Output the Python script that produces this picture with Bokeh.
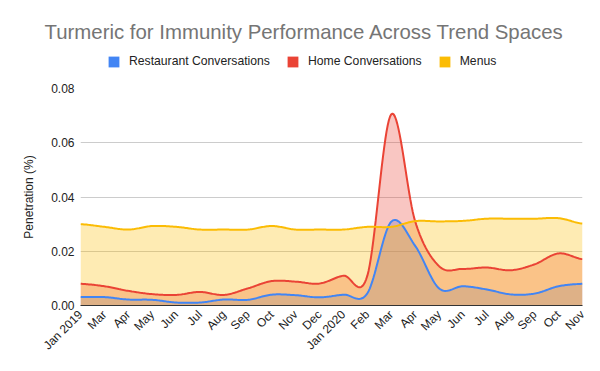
import numpy as np
from bokeh.plotting import figure
from bokeh.layouts import column
from bokeh.models import Range1d, FixedTicker, Legend, LegendItem, NumeralTickFormatter
from bokeh.embed import file_html
from bokeh.resources import INLINE

months = ["Jan 2019", "Mar", "Apr", "May", "Jun", "Jul", "Aug", "Sep", "Oct", "Nov", "Dec",
          "Jan 2020", "Feb", "Mar", "Apr", "May", "Jun", "Jul", "Aug", "Sep", "Oct", "Nov"]
restaurant = [0.0031, 0.0031, 0.0022, 0.0021, 0.0011, 0.0011, 0.0022, 0.0021, 0.0040, 0.0038, 0.0030,
              0.0040, 0.0045, 0.0309, 0.0220, 0.0063, 0.0071, 0.0059, 0.0041, 0.0044, 0.0071, 0.0080]
home = [0.0080, 0.0071, 0.0054, 0.0042, 0.0039, 0.0050, 0.0039, 0.0063, 0.0090, 0.0088, 0.0081,
        0.0110, 0.0110, 0.0705, 0.0310, 0.0145, 0.0135, 0.0140, 0.0130, 0.0152, 0.0192, 0.0171]
menus = [0.0300, 0.0290, 0.0280, 0.0293, 0.0290, 0.0280, 0.0280, 0.0280, 0.0293, 0.0280, 0.0280,
         0.0280, 0.0290, 0.0290, 0.0311, 0.0310, 0.0312, 0.0320, 0.0320, 0.0320, 0.0322, 0.0302]
y_ticks = [0.0, 0.02, 0.04, 0.06, 0.08]

series_names = ["Restaurant Conversations", "Home Conversations", "Menus"]
colors = ["#4285F4", "#EA4335", "#FBBC04"]
TITLE = "Turmeric for Immunity Performance Across Trend Spaces"
FONT = "Liberation Sans"
data = [restaurant, home, menus]
idx = list(range(len(months)))


def smooth(vals, n=20):
    """Cubic (Catmull-Rom) curve through the data points, for a smoothed line."""
    y = np.asarray(vals, dtype=float)
    N = len(y)
    m = np.zeros(N)
    m[1:-1] = (y[2:] - y[:-2]) / 2.0
    m[0] = (y[1] - y[0]) / 2.0
    m[-1] = (y[-1] - y[-2]) / 2.0
    xs, ys = [], []
    t = np.linspace(0, 1, n, endpoint=False)
    h00 = 2 * t**3 - 3 * t**2 + 1
    h10 = t**3 - 2 * t**2 + t
    h01 = -2 * t**3 + 3 * t**2
    h11 = t**3 - t**2
    for i in range(N - 1):
        xs.extend(i + t)
        ys.extend(h00 * y[i] + h10 * m[i] + h01 * y[i + 1] + h11 * m[i + 1])
    xs.append(N - 1)
    ys.append(y[-1])
    return np.array(xs), np.maximum(np.array(ys), 0)


# ---------- header (title + legend) ----------
HH = 76
head = figure(width=600, height=HH, x_range=Range1d(0, len(months) - 1), y_range=Range1d(0, 0.08),
              output_backend="svg", toolbar_location=None, x_axis_type=None, y_axis_type=None,
              min_border_left=80, min_border_right=18, min_border_top=43, min_border_bottom=0)
head.outline_line_color = None
head.xgrid.visible = False
head.ygrid.visible = False
head.title.text = TITLE
head.title.align = "left"
head.title.offset = -36
head.title.text_font = FONT
head.title.text_font_size = "20.4px"
head.title.text_font_style = "normal"
head.title.text_color = "#757575"
head.title.standoff = 1

items = []
for name, c, d in zip(series_names, colors, data):
    r = head.scatter(x=idx, y=d, marker="square", size=11, fill_color=c, line_color=None, visible=False)
    items.append(LegendItem(label=name, renderers=[r]))
legend = Legend(items=items, orientation="horizontal", location=(20, 1.5),
                glyph_width=27, glyph_height=27, label_standoff=2, spacing=9,
                label_text_font=FONT, label_text_font_size="12.2px", label_text_color="#222222",
                padding=0, margin=0, border_line_color=None, background_fill_alpha=0)
head.add_layout(legend, "center")

# ---------- main chart ----------
p = figure(width=600, height=371 - HH, x_range=Range1d(0, len(months) - 1), y_range=Range1d(0, 0.08),
           output_backend="svg", toolbar_location=None,
           min_border_left=80, min_border_right=18, min_border_top=12, min_border_bottom=66)
p.outline_line_color = None
p.background_fill_color = "white"
p.border_fill_color = "white"

curves = [smooth(d) for d in data]
for (xs, ys), c in zip(curves, colors):
    p.varea(x=xs, y1=0, y2=ys, fill_color=c, fill_alpha=0.3)
for (xs, ys), c in zip(curves, colors):
    p.line(xs, ys, line_color=c, line_width=2)

p.xaxis.ticker = FixedTicker(ticks=idx)
p.xaxis.major_label_overrides = {i: m for i, m in enumerate(months)}
p.xaxis.major_label_orientation = np.pi / 4
p.xaxis.major_tick_line_color = None
p.xaxis.major_tick_out = 0
p.xaxis.major_tick_in = 0
p.xaxis.minor_tick_line_color = None
p.xaxis.axis_line_color = "#333333"
p.xaxis.major_label_text_font = FONT
p.xaxis.major_label_text_font_size = "12px"
p.xaxis.major_label_text_color = "#222222"
p.xaxis.major_label_standoff = 7

p.yaxis.ticker = FixedTicker(ticks=y_ticks)
p.yaxis.formatter = NumeralTickFormatter(format="0.00")
p.yaxis.major_tick_line_color = None
p.yaxis.major_tick_out = 0
p.yaxis.major_tick_in = 0
p.yaxis.minor_tick_line_color = None
p.yaxis.axis_line_color = None
p.yaxis.major_label_text_font = FONT
p.yaxis.major_label_text_font_size = "12px"
p.yaxis.major_label_text_color = "#222222"
p.yaxis.major_label_standoff = 6
p.yaxis.axis_label = "Penetration (%)"
p.yaxis.axis_label_text_font = FONT
p.yaxis.axis_label_text_font_size = "12px"
p.yaxis.axis_label_text_font_style = "normal"
p.yaxis.axis_label_text_color = "#222222"
p.yaxis.axis_label_standoff = 12

p.xgrid.grid_line_color = None
p.ygrid.grid_line_color = "#cccccc"
p.ygrid.ticker = FixedTicker(ticks=y_ticks)

layout = column(head, p, spacing=0)
open("out.html", "w").write(file_html(layout, INLINE))
